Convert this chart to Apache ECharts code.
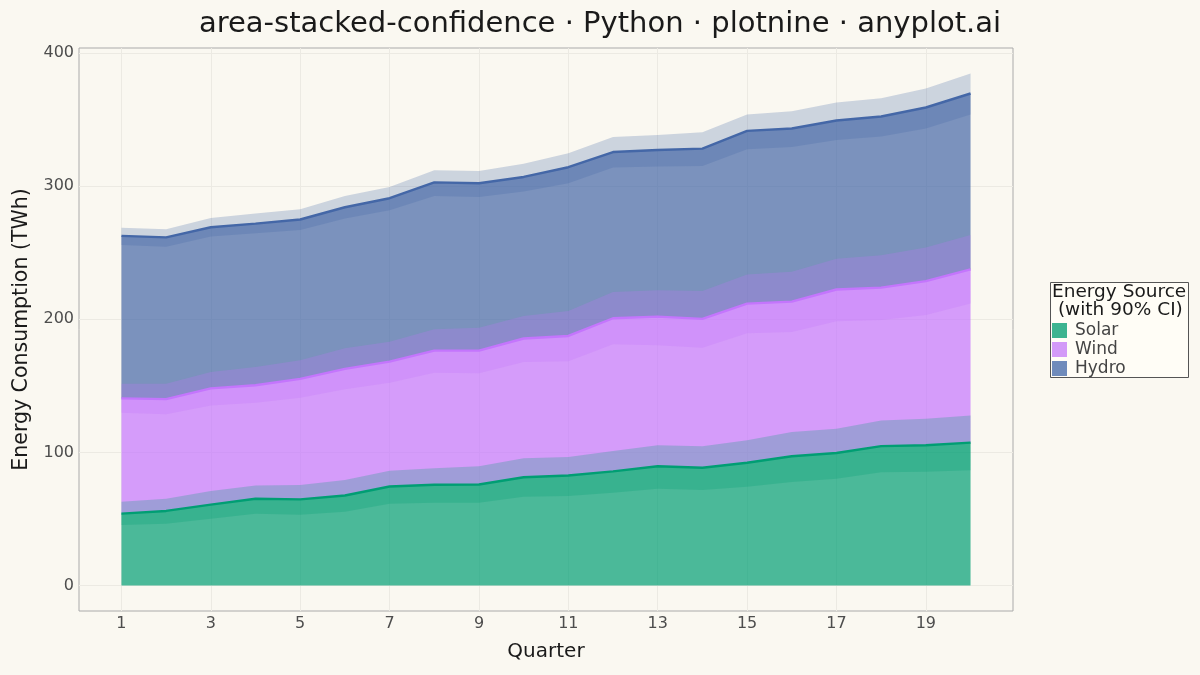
<!DOCTYPE html>
<html lang="en">
<head>
    <meta charset="UTF-8">
    <title>area-stacked-confidence</title>
    <script src="https://cdn.jsdelivr.net/npm/echarts@6.0.0/dist/echarts.min.js"></script>
    <style>
        html, body { margin: 0; padding: 0; background: #FAF8F1; }
        #main { width: 1200px; height: 675px; }
    </style>
</head>
<body>
    <div id="main"></div>
    <script type="text/javascript">
        // data
        const quarters = [1, 2, 3, 4, 5, 6, 7, 8, 9, 10, 11, 12, 13, 14, 15, 16, 17, 18, 19, 20]
        const solar = [54.0, 56.0, 60.7, 65.2, 64.7, 67.6, 74.4, 75.7, 75.9, 81.3, 82.6, 85.7, 89.6, 88.5, 92.2, 97.1, 99.5, 104.7, 105.4, 107.3]
        const wind = [86.6, 84.0, 87.4, 85.3, 90.5, 95.2, 93.8, 100.8, 100.6, 104.3, 104.9, 115.1, 112.4, 111.8, 119.6, 116.2, 122.9, 119.1, 123.3, 130.3]
        const hydro = [122.1, 121.6, 121.1, 121.4, 119.8, 121.4, 122.8, 126.4, 125.8, 121.4, 126.8, 124.9, 125.2, 128.0, 129.8, 130.1, 127.0, 128.6, 130.5, 132.1]

        // 90% CI of each source (its own value, not stacked)
        const solarLow = [45.4, 46.4, 50.1, 53.9, 53.1, 55.4, 61.4, 62.2, 62.2, 66.7, 67.2, 69.7, 72.7, 71.7, 74.2, 77.7, 80.2, 85.0, 85.5, 86.5]
        const solarHigh = [62.9, 65.2, 70.9, 75.2, 75.4, 79.2, 86.2, 88.0, 89.5, 95.5, 96.5, 101.0, 105.3, 104.7, 109.2, 115.3, 117.8, 124.0, 125.3, 127.8]
        const windLow = [75.8, 72.6, 74.6, 72.1, 76.4, 79.8, 78.0, 84.2, 83.5, 86.6, 85.9, 95.5, 90.9, 90.2, 97.3, 93.4, 99.0, 94.8, 97.8, 104.5]
        const windHigh = [97.6, 95.6, 99.7, 98.9, 104.5, 110.6, 108.8, 116.8, 117.8, 121.2, 123.6, 134.8, 132.2, 132.8, 141.4, 138.7, 146.1, 143.4, 148.5, 156.1]
        const hydroLow = [115.3, 114.6, 114.1, 114.2, 112.0, 112.9, 113.8, 116.2, 115.5, 110.4, 114.8, 113.3, 112.8, 115.0, 116.0, 116.2, 112.4, 113.5, 114.7, 116.3]
        const hydroHigh = [128.3, 127.7, 128.1, 129.0, 127.5, 129.9, 131.3, 135.5, 135.0, 131.4, 137.3, 136.2, 136.6, 140.3, 142.2, 143.1, 140.5, 142.4, 144.8, 147.1]

        const xTicks = [1, 3, 5, 7, 9, 11, 13, 15, 17, 19]
        const yTicks = [0, 100, 200, 300, 400]

        const names = ['Solar', 'Wind', 'Hydro']
        const colors = ['#009E73', '#C475FD', '#4467A7']
        const keyColors = ['#3DB490', '#D39AF8', '#6F8BBB']

        const font = 'DejaVu Sans'
        const values = [solar, wind, hydro]
        const lows = [solarLow, windLow, hydroLow]
        const highs = [solarHigh, windHigh, hydroHigh]

        // base of each layer = sum of the layers below it
        const bases = values.map((v, k) => quarters.map((q, i) => {
            let s = 0
            for (let j = 0; j < k; j++) s += values[j][i]
            return s
        }))

        // polygon between two curves, drawn once through the axis scales
        function ribbon(lower, upper, fill, opacity, z) {
            return {
                type: 'custom',
                silent: true,
                z: z,
                clip: true,
                encode: { x: 0, y: [1, 2] },
                data: quarters.map((q, i) => [q, lower[i], upper[i]]),
                renderItem: function (params, api) {
                    if (params.dataIndex !== 0) return
                    const pts = []
                    quarters.forEach((q, i) => pts.push(api.coord([q, upper[i]])))
                    for (let i = quarters.length - 1; i >= 0; i--) pts.push(api.coord([quarters[i], lower[i]]))
                    return {
                        type: 'polygon',
                        shape: { points: pts },
                        style: { fill: fill, opacity: opacity }
                    }
                }
            }
        }

        const series = []
        // stacked fills
        names.forEach((name, k) => {
            const lower = bases[k]
            const upper = quarters.map((q, i) => bases[k][i] + values[k][i])
            series.push(Object.assign(ribbon(lower, upper, colors[k], 0.7, 1), { name: name }))
        })
        // confidence bands around each stacked top
        names.forEach((name, k) => {
            const lower = quarters.map((q, i) => bases[k][i] + lows[k][i])
            const upper = quarters.map((q, i) => bases[k][i] + highs[k][i])
            series.push(Object.assign(ribbon(lower, upper, colors[k], 0.25, 2), { name: name + ' CI' }))
        })
        // lines on the stacked tops
        names.forEach((name, k) => {
            series.push({
                name: name + ' line',
                type: 'line',
                symbol: 'none',
                silent: true,
                z: 3,
                lineStyle: { width: 2.4, color: colors[k] },
                data: quarters.map((q, i) => [q, bases[k][i] + values[k][i]])
            })
        })

        var myChart = echarts.init(document.getElementById('main'))
        var option = {
            backgroundColor: '#FAF8F1',
            animation: false,
            title: {
                text: 'area-stacked-confidence · Python · plotnine · anyplot.ai',
                left: 'center',
                top: 5,
                textStyle: { fontFamily: font, fontSize: 29, fontWeight: 'normal', color: '#1a1a1a' }
            },
            grid: {
                left: 79,
                right: 187,
                top: 48,
                bottom: 64,
                show: true,
                backgroundColor: 'transparent',
                borderColor: '#aaaaaa',
                borderWidth: 1
            },
            legend: {
                orient: 'vertical',
                left: 1052,
                top: 322,
                padding: 0,
                itemWidth: 15,
                itemHeight: 15,
                itemGap: 2,
                icon: 'rect',
                selectedMode: false,
                textStyle: { fontFamily: font, fontSize: 17, color: '#444444', padding: [0, 0, 0, 3] },
                data: names.map((n, k) => ({ name: n, itemStyle: { color: keyColors[k] } }))
            },
            graphic: [
                {
                    type: 'rect',
                    left: 1050,
                    top: 282,
                    shape: { width: 138, height: 95 },
                    style: { fill: '#FFFDF6', stroke: '#555555', lineWidth: 1 },
                    z: -1
                },
                {
                    type: 'text',
                    left: 1052,
                    top: 283,
                    style: {
                        text: 'Energy Source\n (with 90% CI)',
                        fontFamily: font,
                        fontSize: 18.5,
                        lineHeight: 18,
                        fill: '#1a1a1a'
                    }
                }
            ],
            xAxis: {
                type: 'value',
                min: 0.05,
                max: 20.95,
                name: 'Quarter',
                nameLocation: 'middle',
                nameGap: 31,
                nameTextStyle: { fontFamily: font, fontSize: 20, color: '#1a1a1a' },
                axisLine: { show: false },
                axisTick: { show: false, customValues: xTicks },
                axisLabel: { customValues: xTicks, fontFamily: font, fontSize: 16, color: '#4d4d4d', margin: 5 },
                splitLine: { show: true, lineStyle: { color: '#ECEAE3', width: 1 } }
            },
            yAxis: {
                type: 'value',
                min: -19.2,
                max: 403.9,
                name: 'Energy Consumption (TWh)',
                nameLocation: 'middle',
                nameGap: 45,
                nameTextStyle: { fontFamily: font, fontSize: 20.5, color: '#1a1a1a' },
                axisLine: { show: false },
                axisTick: { show: false, customValues: yTicks },
                axisLabel: { customValues: yTicks, fontFamily: font, fontSize: 16, color: '#4d4d4d', margin: 5 },
                splitLine: { show: true, lineStyle: { color: '#ECEAE3', width: 1 } }
            },
            series: series
        }
        myChart.setOption(option)
    </script>
</body>
</html>
